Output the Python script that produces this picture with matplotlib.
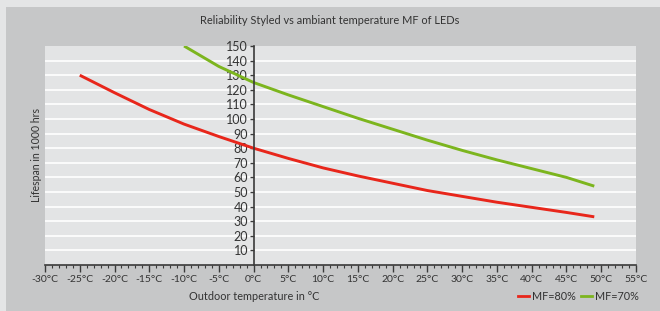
import matplotlib.pyplot as plt
from matplotlib.patches import Rectangle
from matplotlib.lines import Line2D
from matplotlib.ticker import MultipleLocator

# valeurs
temp_80 = [-25, -20, -15, -10, -5, 0, 5, 10, 15, 20, 25, 30, 35, 40, 45, 49]
mf_80 = [130, 118, 106.5, 96.5, 88, 80, 73, 66.5, 61, 56, 51, 47, 43, 39.5, 36, 33]
temp_70 = [-10, -5, 0, 5, 10, 15, 20, 25, 30, 35, 40, 45, 49]
mf_70 = [150, 136, 125, 116.5, 108.5, 100.5, 93, 85.5, 78.5, 72, 66, 60, 54]

x_ticks = list(range(-30, 56, 5))
x_labels = [f"{t}°C" for t in x_ticks]
y_ticks = list(range(10, 151, 10))

red = "#e8261b"
green = "#7cb51e"
dark = "#3a3a3a"

plt.rcParams['font.family'] = ['Lato', 'DejaVu Sans']

W, H = 660, 311
fig = plt.figure(figsize=(W / 100, H / 100), dpi=100)
fig.patch.set_facecolor("#e4e5e6")
fig.add_artist(Rectangle((6 / W, 0), 1, (H - 7) / H, transform=fig.transFigure,
                         facecolor="#c6c7c8", edgecolor="none", zorder=0))

ax = fig.add_axes([45 / W, (H - 265) / H, 591 / W, 219 / H])
ax.set_facecolor("#e3e4e5")

ax.plot(temp_80, mf_80, color=red, lw=2.1, solid_capstyle="butt",
        solid_joinstyle="round", zorder=3)
ax.plot(temp_70, mf_70, color=green, lw=2.1, solid_capstyle="butt",
        solid_joinstyle="round", zorder=3)

ax.set_xlim(-30, 55)
ax.set_ylim(0, 150)

for v in y_ticks[:-1]:
    ax.axhline(v, color="white", lw=1.2, zorder=1)

ax.spines['left'].set_position(('data', 0))
ax.spines['left'].set_color(dark)
ax.spines['left'].set_linewidth(1.2)
ax.spines['left'].set_zorder(4)
ax.spines['bottom'].set_color(dark)
ax.spines['bottom'].set_linewidth(1.2)
ax.spines['top'].set_visible(False)
ax.spines['right'].set_visible(False)

ax.set_xticks(x_ticks)
ax.set_xticklabels(x_labels)
ax.xaxis.set_minor_locator(MultipleLocator(1))
ax.set_yticks(y_ticks)
ax.tick_params(axis='x', which='major', direction='out', length=5, width=1,
               color=dark, labelsize=7.5, labelcolor="#333333", pad=2)
ax.tick_params(axis='x', which='minor', direction='out', length=2, width=0.8, color=dark)
ax.tick_params(axis='y', direction='out', length=3, width=1, color=dark,
               labelsize=9, labelcolor="#333333", pad=1)

fig.text(330 / W, 1 - 20 / H, "Reliability Styled vs ambiant temperature MF of LEDs",
         ha="center", va="center", fontsize=7.9, color="#333333")
fig.text(37 / W, 1 - 155 / H, "Lifespan in 1000 hrs", rotation=90,
         ha="center", va="center", fontsize=7.6, color="#333333")
fig.text(254 / W, 1 - 296 / H, "Outdoor temperature in °C",
         ha="center", va="center", fontsize=7.8, color="#333333")

handles = [Line2D([], [], color=red, lw=2), Line2D([], [], color=green, lw=2)]
fig.legend(handles, ["MF=80%", "MF=70%"], loc="center right",
           bbox_to_anchor=(649 / W, 1 - 296 / H), ncol=2, frameon=False,
           fontsize=7.8, handlelength=1.0, handletextpad=0.3, columnspacing=0.5,
           labelcolor="#333333")

fig.savefig("out.png", dpi=100, facecolor=fig.get_facecolor())
